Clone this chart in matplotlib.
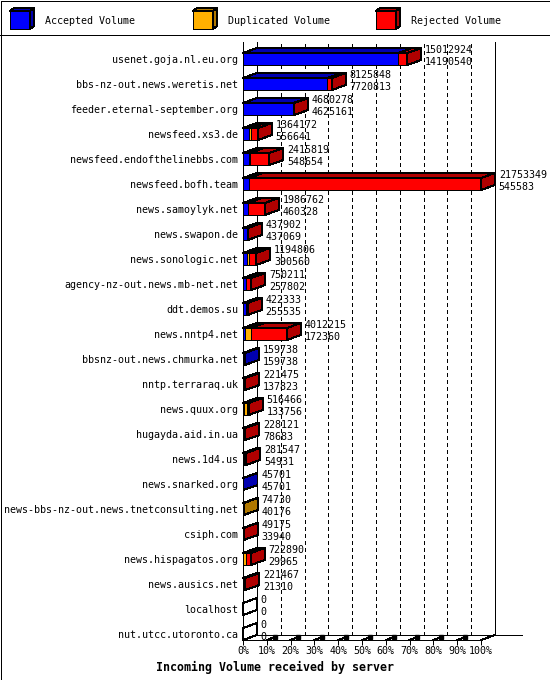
import numpy as np
import matplotlib
matplotlib.use("Agg")
import matplotlib.pyplot as plt
from matplotlib.patches import Polygon, Rectangle

plt.rcParams['font.family'] = ['DejaVu Sans Mono']
plt.rcParams['lines.antialiased'] = False
plt.rcParams['patch.antialiased'] = False

# --- data ---
hosts = ["usenet.goja.nl.eu.org", "bbs-nz-out.news.weretis.net",
         "feeder.eternal-september.org", "newsfeed.xs3.de",
         "newsfeed.endofthelinebbs.com", "newsfeed.bofh.team",
         "news.samoylyk.net", "news.swapon.de", "news.sonologic.net",
         "agency-nz-out.news.mb-net.net", "ddt.demos.su", "news.nntp4.net",
         "bbsnz-out.news.chmurka.net", "nntp.terraraq.uk", "news.quux.org",
         "hugayda.aid.in.ua", "news.1d4.us", "news.snarked.org",
         "news-bbs-nz-out.news.tnetconsulting.net", "csiph.com",
         "news.hispagatos.org", "news.ausics.net", "localhost",
         "nut.utcc.utoronto.ca"]
total = np.array([15012924, 8125848, 4680278, 1364172, 2415819, 21753349,
                  1986762, 437902, 1194806, 750211, 422333, 4012215,
                  159738, 221475, 516466, 228121, 281547, 45701,
                  74730, 49175, 722890, 221467, 0, 0])
accepted = np.array([14190540, 7720813, 4625161, 556641, 548654, 545583,
                     460328, 437069, 390560, 257802, 255535, 172360,
                     159738, 137823, 133756, 78683, 54931, 45701,
                     40176, 33940, 29965, 21310, 0, 0])
duplicated = np.array([0, 0, 0, 180000, 90000, 0,
                       0, 0, 200000, 0, 0, 550000,
                       0, 0, 230000, 0, 0, 0,
                       34554, 0, 200000, 0, 0, 0])
rejected = total - accepted - duplicated

series = ["Accepted Volume", "Duplicated Volume", "Rejected Volume"]
face = ["#0000ff", "#ffb000", "#ff0000"]
shade = ["#0000b0", "#b07800", "#b00000"]
pct_ticks = np.arange(0, 101, 10)

# --- geometry ---
W, H = 550, 680
DX = 14 / 2.38      # depth in percent units
DY = 0.2            # depth in rows
BH = 0.48           # bar height in rows
LW = 0.72
YB, YT = 23.24, -0.68

fig = plt.figure(figsize=(W / 100, H / 100), dpi=100)

# overlay in pixel coords for frame, legend and title
oax = fig.add_axes([0, 0, 1, 1])
oax.set_xlim(0, W)
oax.set_ylim(H, 0)
oax.axis('off')
oax.add_patch(Rectangle((0.5, 0.5), W - 1, H - 1, fill=False, ec='k', lw=LW))
oax.plot([0, W], [34.5, 34.5], color='k', lw=LW)
for k in range(3):
    x0 = 10 + 183 * k
    oax.add_patch(Rectangle((x0, 11), 20, 18, fc=face[k], ec='k', lw=LW))
    oax.add_patch(Polygon([(x0, 11), (x0 + 20, 11), (x0 + 24, 8), (x0 + 4, 8)],
                          fc=shade[k], ec='k', lw=LW))
    oax.add_patch(Polygon([(x0 + 20, 11), (x0 + 24, 8), (x0 + 24, 26), (x0 + 20, 29)],
                          fc=shade[k], ec='k', lw=LW))
    oax.text(x0 + 35, 20.5, series[k], fontsize=7.2, va='center')
oax.text(156, 667, "Incoming Volume received by server", fontsize=8.4,
         fontweight='bold', va='center')

# chart axes: front plane
ax = fig.add_axes([243 / W, 40 / H, 238 / W, 598 / H])
ax.set_facecolor('none')
ax.set_xlim(0, 100)
ax.set_ylim(YB, YT)
for s in ['top', 'right']:
    ax.spines[s].set_visible(False)
for s in ['left', 'bottom']:
    ax.spines[s].set_linewidth(LW)
rows = np.arange(len(hosts))
ax.set_yticks(rows, hosts, fontsize=7.2)
ax.set_xticks(pct_ticks, [f"{p}%" for p in pct_ticks], fontsize=7.2)
ax.tick_params(axis='y', length=0, pad=3.6)
ax.tick_params(axis='x', length=3.6, width=LW, pad=1)

# back plane, floor and grid
kw = dict(color='k', lw=LW, clip_on=False, zorder=1)
ax.plot([DX, DX], [YB - DY, YT], **kw)
ax.plot([100 + DX, 100 + DX], [YB - DY, YT], **kw)
ax.plot([DX, 117.2], [YB - DY, YB - DY], **kw)
ax.plot([0, DX], [YB, YB - DY], **kw)
ax.plot([100, 100 + DX], [YB, YB - DY], **kw)
for p in pct_ticks[1:-1]:
    ax.plot([p + DX, p + DX], [YB - DY, YT], color='k', lw=LW,
            ls=(0, (4, 4)), clip_on=False, zorder=1)
    ax.plot([p, p + DX * 0.55], [YB, YB - DY * 0.55], color='k', lw=LW,
            clip_on=False, zorder=2)
    ax.plot([p + DX * 0.55], [YB - DY * 0.55], 's', color='k', ms=2.2,
            clip_on=False, zorder=2)

# bars
scale = 100.0 / total.max()
for i in rows:
    segs = [accepted[i] * scale, duplicated[i] * scale, rejected[i] * scale]
    top, bot = i - BH / 2, i + BH / 2
    x = 0.0
    side = 'white'
    for k, w in enumerate(segs):
        if w <= 0:
            continue
        ax.add_patch(Rectangle((x, top), w, BH, fc=face[k], ec='k', lw=LW,
                               zorder=3, clip_on=False))
        ax.add_patch(Polygon([(x, top), (x + w, top), (x + w + DX, top - DY),
                              (x + DX, top - DY)], fc=shade[k], ec='k', lw=LW,
                             zorder=3, clip_on=False))
        x += w
        side = shade[k]
    ax.add_patch(Polygon([(x, top), (x + DX, top - DY), (x + DX, bot - DY),
                          (x, bot)], fc=side, ec='k', lw=LW, zorder=3,
                         clip_on=False))
    ax.text(x + DX + 1.6, i - 0.25, str(total[i]), fontsize=7.2,
            va='baseline', zorder=4, clip_on=False)
    ax.text(x + DX + 1.6, i + 0.25, str(accepted[i]), fontsize=7.2,
            va='baseline', zorder=4, clip_on=False)

fig.savefig("out.png", dpi=100)
